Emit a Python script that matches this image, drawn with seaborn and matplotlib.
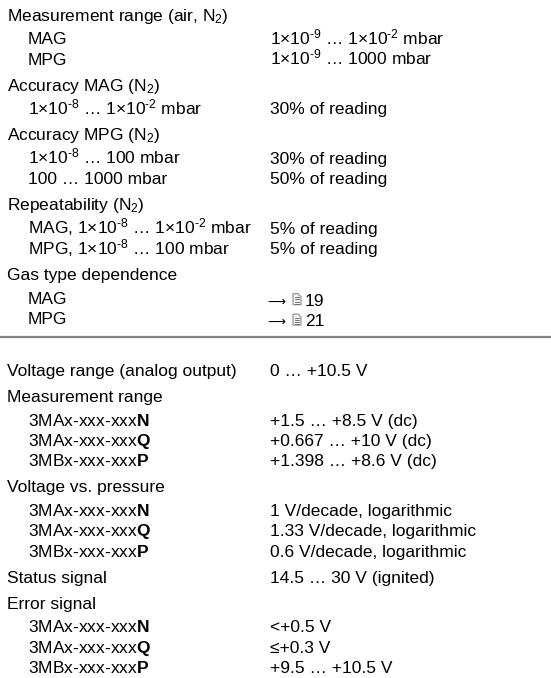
import numpy as np
import pandas as pd
import seaborn as sns
from matplotlib import pyplot as plt
from matplotlib.patches import Polygon

# Specification rows: label, value, indent level (0 = heading, 1 = sub item)
row_label = ['Measurement range (air, N$_2$)',
             'MAG',
             'MPG',
             'Accuracy MAG (N$_2$)',
             r'1×10$^{\text{-8}}$ … 1×10$^{\text{-2}}$ mbar',
             'Accuracy MPG (N$_2$)',
             r'1×10$^{\text{-8}}$ … 100 mbar',
             '100 … 1000 mbar',
             'Repeatability (N$_2$)',
             r'MAG, 1×10$^{\text{-8}}$ … 1×10$^{\text{-2}}$ mbar',
             r'MPG, 1×10$^{\text{-8}}$ … 100 mbar',
             'Gas type dependence',
             'MAG',
             'MPG',
             'Voltage range (analog output)',
             'Measurement range',
             r'3MAx-xxx-xxx$\mathbf{N}$',
             r'3MAx-xxx-xxx$\mathbf{Q}$',
             r'3MBx-xxx-xxx$\mathbf{P}$',
             'Voltage vs. pressure',
             r'3MAx-xxx-xxx$\mathbf{N}$',
             r'3MAx-xxx-xxx$\mathbf{Q}$',
             r'3MBx-xxx-xxx$\mathbf{P}$',
             'Status signal',
             'Error signal',
             r'3MAx-xxx-xxx$\mathbf{N}$',
             r'3MAx-xxx-xxx$\mathbf{Q}$',
             r'3MBx-xxx-xxx$\mathbf{P}$']

row_value = ['',
             r'1×10$^{\text{-9}}$ … 1×10$^{\text{-2}}$ mbar',
             r'1×10$^{\text{-9}}$ … 1000 mbar',
             '',
             '30% of reading',
             '',
             '30% of reading',
             '50% of reading',
             '',
             '5% of reading',
             '5% of reading',
             '',
             '→19',
             '→21',
             '0 … +10.5 V',
             '',
             '+1.5 … +8.5 V (dc)',
             '+0.667 … +10 V (dc)',
             '+1.398 … +8.6 V (dc)',
             '',
             '1 V/decade, logarithmic',
             '1.33 V/decade, logarithmic',
             '0.6 V/decade, logarithmic',
             '14.5 … 30 V (ignited)',
             '',
             '<+0.5 V',
             '≤+0.3 V',
             '+9.5 … +10.5 V']

row_level = [0, 1, 1, 0, 1, 0, 1, 1, 0, 1, 1, 0, 1, 1,
             0, 0, 1, 1, 1, 0, 1, 1, 1, 0, 0, 1, 1, 1]

# Separator line comes after this row
sep_after = 13

spec = pd.DataFrame({'label': row_label, 'value': row_value, 'level': row_level})

# Style
sns.set_theme(style='white')
plt.rcParams['font.family'] = ['Liberation Sans', 'DejaVu Sans']
plt.rcParams['mathtext.fontset'] = 'custom'
plt.rcParams['mathtext.rm'] = 'Liberation Sans'
plt.rcParams['mathtext.it'] = 'Liberation Sans:italic'
plt.rcParams['mathtext.bf'] = 'Liberation Sans:bold'

fig = plt.figure(figsize=(5.51, 6.78), dpi=100)
ax = fig.add_axes([0, 0, 1, 1])
ax.set_xlim(0, 551)
ax.set_ylim(678, 0)
ax.axis('off')

fs = 12.5
text_col = '#000000'

# Row baselines (pixel layout)
y = 21
ys = []
for i, lev in enumerate(spec['level']):
    if i > 0:
        if i == sep_after + 1:
            y += 52
        elif lev == 0:
            y += 26
        elif spec['level'][i - 1] == 0:
            y += 23.5
        else:
            y += 20.4
    ys.append(y)
spec['y'] = ys


def draw_page_icon(ax, x, y):
    # small document icon with folded corner
    w, h, c = 8, 11, 3
    pts = [(x, y), (x, y - h), (x + w - c, y - h), (x + w, y - h + c), (x + w, y)]
    ax.add_patch(Polygon(pts, closed=True, facecolor='#f2f2f2', edgecolor='#8c8c8c', lw=0.8))
    for k in range(4):
        yy = y - h + 3.5 + k * 2.2
        ax.plot([x + 1.8, x + w - 1.8], [yy, yy], color='#6e6e6e', lw=0.7)


for _, r in spec.iterrows():
    x_lab = 7 if r['level'] == 0 else 28
    ax.text(x_lab, r['y'], r['label'], fontsize=fs, color=text_col, va='baseline', ha='left')
    val = r['value']
    if val.startswith('→'):
        ax.text(267, r['y'] + 2, '⟶', fontsize=9, color=text_col, va='baseline', ha='left',
                family='DejaVu Sans')
        draw_page_icon(ax, 293, r['y'] + 1)
        ax.text(305, r['y'] + 2, val[1:], fontsize=fs, color=text_col, va='baseline', ha='left')
    elif val:
        ax.text(270, r['y'], val, fontsize=fs, color=text_col, va='baseline', ha='left')

# Separator between the two blocks
ax.axhline(spec['y'][sep_after] + 13, color='#808080', lw=1.6)

fig.savefig('out.png', dpi=100)
